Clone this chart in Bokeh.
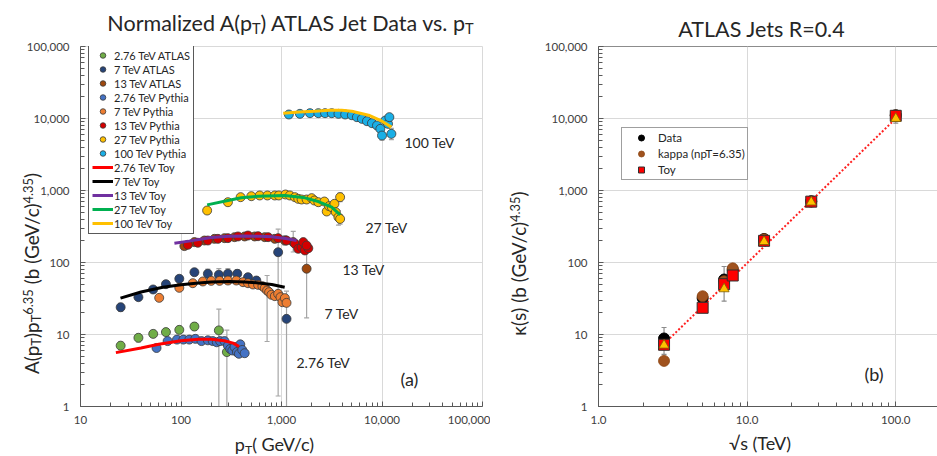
from bokeh.plotting import figure
from bokeh.models import (ColumnDataSource, Label, Whisker, TeeHead, NumeralTickFormatter,
                          FixedTicker, Range1d, GridBox, Div)
from bokeh.embed import file_html
from bokeh.resources import INLINE

FONT = "Lato"
TXT = "#262626"
TICK = "#404040"
W, H = 937, 456

# ---------------- Left panel data: (pT [GeV/c], A(pT) pT^6.35) ----------------
pt_276_atlas = [25.1, 37.7, 52.9, 70.8, 96.2, 136, 238, 286]
y_276_atlas = [7.0, 9.0, 10.2, 10.8, 11.6, 12.9, 11.4, 5.7]
lo_276_atlas = [6.1, 7.9, 9.1, 9.7, 10.4, 11.4, 1.0, 1.0]
hi_276_atlas = [7.9, 10.1, 11.4, 12.1, 13.0, 14.6, 22.5, 11.5]

pt_7_atlas = [25.1, 37.7, 52.8, 70.8, 96.2, 136, 185, 238, 293, 363, 464, 562, 926, 1122]
y_7_atlas = [23.9, 33, 42.2, 50, 59.4, 73.3, 69.7, 67.6, 69.7, 69.7, 62.5, 56.2, 139, 16.5]
lo_7_atlas = [21, 30, 38.5, 45.5, 54, 66, 61, 60, 61, 61, 56, 50, 1.4, 1.0]
hi_7_atlas = [27, 36, 46, 55, 65, 81, 81, 82, 82, 80, 70, 63, 290, 40]

pt_13_atlas = [108, 136, 171, 215, 271, 341, 430, 541, 681, 857, 1080, 1308, 1778]
y_13_atlas = [169, 192, 202, 213, 218, 225, 230, 230, 225, 213, 202, 192, 82]
lo_13_atlas = [160, 183, 193, 204, 209, 216, 221, 220, 214, 200, 175, 140, 17]
hi_13_atlas = [178, 201, 211, 222, 227, 234, 239, 240, 236, 226, 235, 270, 140]

pt_276_pyth = [57.1, 73.6, 91.2, 105.5, 121, 139, 160, 185, 207, 227, 245, 271, 293, 309,
               324, 341, 360, 377, 389, 407, 430]
y_276_pyth = [6.5, 8.1, 8.5, 8.5, 8.5, 8.7, 8.1, 8.3, 8.1, 7.8, 8.1, 8.1, 7.0, 6.3,
              6.0, 6.7, 5.7, 5.4, 7.3, 6.1, 5.5]

pt_7_pyth = [60.7, 96.2, 131, 165, 200, 242, 293, 355, 414, 464, 521, 585, 646, 681, 719,
             753, 794, 858, 926, 977, 1023, 1080, 1122]
y_7_pyth = [32.3, 44.5, 51.6, 54.5, 55.6, 55.6, 56.2, 56.2, 53.3, 51.6, 49.5, 48.9, 46.9,
            44.0, 40.8, 38.7, 35.6, 34.1, 36.7, 33.0, 28.1, 32.0, 27.5]
lo_7_pyth = [32.3, 44.5, 51.6, 54.5, 55.6, 55.6, 56.2, 56.2, 53.3, 51.6, 49.5, 48.9, 46.9,
             44.0, 8.0, 38.7, 35.6, 34.1, 36.7, 33.0, 28.1, 32.0, 27.5]
hi_7_pyth = [32.3, 44.5, 51.6, 54.5, 55.6, 55.6, 56.2, 56.2, 53.3, 51.6, 49.5, 48.9, 46.9,
             44.0, 66.0, 38.7, 35.6, 34.1, 36.7, 33.0, 28.1, 32.0, 27.5]

pt_13_pyth = [117, 147, 185, 233, 293, 369, 464, 585, 736, 927, 1122, 1359, 1468, 1585,
              1648, 1711, 1849, 1778]
y_13_pyth = [176, 188, 202, 213, 218, 230, 237, 232, 225, 218, 202, 182, 155, 163,
             192, 147, 158, 172]

pt_27_pyth = [182, 293, 392, 501, 607, 724, 858, 940, 1096, 1211, 1359, 1468, 1585, 1778,
              1995, 2122, 2326, 2671, 2818, 2973, 3162, 3363, 3467, 3687, 3831, 3831]
y_27_pyth = [527, 688, 808, 834, 853, 853, 853, 853, 880, 853, 808, 766, 750, 750,
             783, 726, 688, 703, 511, 606, 587, 653, 500, 426, 808, 403]
lo_27_pyth = [527, 688, 808, 834, 853, 853, 853, 853, 880, 853, 808, 766, 750, 750,
              783, 726, 688, 703, 511, 606, 587, 653, 500, 330, 700, 340]
hi_27_pyth = [527, 688, 808, 834, 853, 853, 853, 853, 880, 853, 808, 766, 750, 750,
              783, 726, 688, 703, 511, 606, 587, 653, 500, 520, 930, 403]

pt_100_pyth = [1184, 1525, 1920, 2326, 2712, 3162, 3687, 4300, 5012, 5623, 6310, 7079,
               7943, 8913, 9623, 10000, 10800, 11480, 11840, 12400]
y_100_pyth = [11370, 11610, 11860, 11860, 11860, 11860, 11610, 11370, 11110, 10440, 9890,
              9180, 8610, 8000, 7180, 5800, 9380, 8430, 10440, 6120]
lo_100_pyth = [11370, 11610, 11860, 11860, 11860, 11860, 11610, 11370, 11110, 10440, 9890,
               9180, 8610, 8000, 7180, 5000, 9380, 8430, 10440, 5100]
hi_100_pyth = [11370, 11610, 11860, 11860, 11860, 11860, 11610, 11370, 11110, 10440, 9890,
               9180, 8610, 8000, 7180, 6700, 9380, 8430, 10440, 7300]

# Toy model curves
toy_276_pt = [22.5, 40, 60, 100, 150, 200, 270, 330, 378]
toy_276_y = [5.6, 6.5, 7.3, 8.2, 8.6, 8.6, 8.2, 7.6, 6.8]
toy_7_pt = [25, 40, 66, 100, 141, 200, 304, 430, 562, 800, 1076]
toy_7_y = [32, 39, 45.4, 49, 51.6, 53.5, 54.4, 53.8, 52.3, 49.5, 45.4]
toy_13_pt = [86, 120, 200, 300, 430, 600, 794, 1100, 1413]
toy_13_y = [185, 198, 222, 232, 233, 232, 228, 216, 202]
toy_27_pt = [182, 293, 398, 585, 1080, 1711, 2326, 3162, 3831]
toy_27_y = [632, 726, 791, 834, 853, 791, 703, 587, 459]
toy_100_pt = [1040, 1500, 2150, 3000, 3980, 5000, 7360, 10000, 12400]
toy_100_y = [11860, 12300, 12650, 13000, 13000, 12600, 11110, 9180, 7590]

# ---------------- Right panel data ----------------
sqrt_s = [2.76, 5.02, 7, 8, 13, 27, 100]
kappa_data = [8.8, 32, 58, 80, 212, 710, 11100]
kappa_data_lo = [5.3, 29, 29, 74, 185, 600, 8600]
kappa_data_hi = [12.5, 36, 88, 87, 235, 790, 12500]
kappa_fit = [4.3, 34, 55, 83, 210, 700, 11000]
kappa_toy = [7.2, 23.5, 50, 66, 200, 700, 10900]
tri_s = [2.76, 7, 13, 27, 100]
tri_k = [7.1, 43, 195, 690, 10000]
trend_s = [2.76, 100]
trend_k = [7.4, 10000]

series = [
    ("2.76 TeV ATLAS", pt_276_atlas, y_276_atlas, lo_276_atlas, hi_276_atlas, "#70AD47"),
    ("7 TeV ATLAS", pt_7_atlas, y_7_atlas, lo_7_atlas, hi_7_atlas, "#264478"),
    ("13 TeV ATLAS", pt_13_atlas, y_13_atlas, lo_13_atlas, hi_13_atlas, "#9E480E"),
    ("2.76 TeV Pythia", pt_276_pyth, y_276_pyth, None, None, "#4472C4"),
    ("7 TeV Pythia", pt_7_pyth, y_7_pyth, lo_7_pyth, hi_7_pyth, "#ED7D31"),
    ("13 TeV Pythia", pt_13_pyth, y_13_pyth, None, None, "#D40000"),
    ("27 TeV Pythia", pt_27_pyth, y_27_pyth, lo_27_pyth, hi_27_pyth, "#FFC000"),
    ("100 TeV Pythia", pt_100_pyth, y_100_pyth, lo_100_pyth, hi_100_pyth, "#1AAFE6"),
]
toys = [
    ("2.76 TeV Toy", toy_276_pt, toy_276_y, "#FF0000"),
    ("7 TeV Toy", toy_7_pt, toy_7_y, "#000000"),
    ("13 TeV Toy", toy_13_pt, toy_13_y, "#7030A0"),
    ("27 TeV Toy", toy_27_pt, toy_27_y, "#00B050"),
    ("100 TeV Toy", toy_100_pt, toy_100_y, "#FFC000"),
]


def style_axes(p):
    for ax in (p.xaxis[0], p.yaxis[0]):
        ax.axis_line_color = "#595959"
        ax.major_tick_line_color = "#595959"
        ax.minor_tick_line_color = "#595959"
        ax.major_tick_in = 5
        ax.major_tick_out = 0
        ax.minor_tick_in = 4
        ax.minor_tick_out = 0
        ax.major_label_text_font = FONT
        ax.major_label_text_font_size = "11.5px"
        ax.major_label_text_color = TICK
    p.xaxis.major_label_standoff = 9
    p.yaxis.major_label_standoff = 11
    p.xgrid.grid_line_color = "#d9d9d9"
    p.ygrid.grid_line_color = "#d9d9d9"
    p.background_fill_color = "white"
    p.border_fill_color = "white"


def log_minor(k0, k1):
    return [m * 10.0 ** k for k in range(k0, k1) for m in range(2, 10)]


# ---------------- Left figure ----------------
p1 = figure(width=490, height=456, x_axis_type="log", y_axis_type="log",
            x_range=Range1d(10, 100000), y_range=Range1d(1, 100000),
            output_backend="svg", toolbar_location=None,
            min_border_left=80, min_border_right=8, min_border_top=46, min_border_bottom=50)
p1.outline_line_color = "#d9d9d9"
style_axes(p1)
p1.xaxis.ticker = FixedTicker(ticks=[10, 100, 1000, 10000, 100000], minor_ticks=log_minor(1, 5))
p1.yaxis.ticker = FixedTicker(ticks=[1, 10, 100, 1000, 10000, 100000], minor_ticks=log_minor(0, 5))
p1.xaxis.formatter = NumeralTickFormatter(format="0,0")
p1.yaxis.formatter = NumeralTickFormatter(format="0,0")

for name, xs, ys, lo, hi, col in series:
    if lo is not None:
        src = ColumnDataSource(dict(x=xs, lo=lo, hi=hi))
        p1.add_layout(Whisker(source=src, base="x", lower="lo", upper="hi", dimension="height",
                              line_color="#a6a6a6", line_width=1.2,
                              upper_head=TeeHead(size=5, line_color="#a6a6a6", line_width=1.2),
                              lower_head=TeeHead(size=5, line_color="#a6a6a6", line_width=1.2)))
for name, xs, ys, lo, hi, col in series:
    p1.scatter(xs, ys, marker="circle", size=9, fill_color=col, line_color="#3a3a3a",
               line_width=0.8, legend_label=name)
for name, xs, ys, col in toys:
    p1.line(xs, ys, line_width=3, line_color=col, legend_label=name)

lg = p1.legend[0]
lg.location = (8, 172)
lg.label_text_font = FONT
lg.label_text_font_size = "11px"
lg.label_text_color = TXT
lg.label_height = 14
lg.glyph_height = 14
lg.glyph_width = 21
lg.spacing = 0
lg.padding = 3
lg.margin = 0
lg.label_standoff = 1
lg.border_line_color = "#595959"
lg.border_line_width = 1.5
lg.border_line_alpha = 1.0
lg.background_fill_color = "white"
lg.background_fill_alpha = 1.0

for txt, lx, ly in [("100 TeV", 324, 264), ("27 TeV", 285, 179), ("13 TeV", 262, 137),
                    ("7 TeV", 244, 93), ("2.76 TeV", 216, 44)]:
    p1.add_layout(Label(x=lx, y=ly, x_units="screen", y_units="screen", text=txt,
                        text_font=FONT, text_font_size="14px", text_color=TXT,
                        text_baseline="alphabetic"))
p1.add_layout(Label(x=320, y=28, x_units="screen", y_units="screen", text="(a)",
                    text_font=FONT, text_font_size="18px", text_color=TXT,
                    text_baseline="middle"))

# ---------------- Right figure ----------------
p2 = figure(width=447, height=456, x_axis_type="log", y_axis_type="log",
            x_range=Range1d(1, 200), y_range=Range1d(1, 100000),
            output_backend="svg", toolbar_location=None,
            min_border_left=103, min_border_right=2, min_border_top=46, min_border_bottom=50)
p2.outline_line_color = "#8c8c8c"
style_axes(p2)
p2.xaxis.ticker = FixedTicker(ticks=[1, 10, 100], minor_ticks=log_minor(0, 2))
p2.yaxis.ticker = FixedTicker(ticks=[1, 10, 100, 1000, 10000, 100000], minor_ticks=log_minor(0, 5))
p2.xaxis.formatter = NumeralTickFormatter(format="0.0")
p2.yaxis.formatter = NumeralTickFormatter(format="0,0")

p2.line(trend_s, trend_k, line_color="#FF2020", line_width=2, line_dash="2 2")
src_r = ColumnDataSource(dict(x=sqrt_s, lo=kappa_data_lo, hi=kappa_data_hi))
p2.add_layout(Whisker(source=src_r, base="x", lower="lo", upper="hi", dimension="height",
                      line_color="#8c8c8c", line_width=1.2,
                      upper_head=TeeHead(size=5, line_color="#8c8c8c", line_width=1.2),
                      lower_head=TeeHead(size=5, line_color="#8c8c8c", line_width=1.2)))
p2.scatter(sqrt_s, kappa_data, marker="circle", size=11, fill_color="#000000",
           line_color="#000000", legend_label="Data")
p2.scatter(sqrt_s, kappa_fit, marker="circle", size=11, fill_color="#A0521E",
           line_color="#8B4513", line_width=0.8, legend_label="kappa (npT=6.35)")
p2.scatter(sqrt_s, kappa_toy, marker="square", size=11, fill_color="#FF0000",
           line_color="#303030", line_width=1, legend_label="Toy")
p2.scatter(tri_s, tri_k, marker="triangle", size=10, fill_color="#FFC000",
           line_color="#7f6000", line_width=0.8)

lg2 = p2.legend[0]
lg2.location = (23, 226)
lg2.label_text_font = FONT
lg2.label_text_font_size = "11.5px"
lg2.label_text_color = TXT
lg2.label_height = 15
lg2.glyph_height = 15
lg2.glyph_width = 34
lg2.spacing = 1
lg2.padding = 2
lg2.margin = 0
lg2.label_standoff = 0
lg2.border_line_color = "#404040"
lg2.border_line_width = 1.2

p2.add_layout(Label(x=266, y=33, x_units="screen", y_units="screen", text="(b)",
                    text_font=FONT, text_font_size="18px", text_color=TXT,
                    text_baseline="middle"))

# ---------------- Titles and axis titles (HTML text overlay) ----------------
SUB = '<span style="font-size:0.68em;vertical-align:-0.22em">%s</span>'
SUP = '<span style="font-size:0.68em;vertical-align:0.42em">%s</span>'


def hbox(html, cx, top, size, width=600):
    return ('<div style="position:absolute;left:%.1fpx;top:%.1fpx;width:%dpx;'
            'text-align:center;white-space:nowrap;line-height:1;font-size:%.1fpx">%s</div>'
            % (cx - width / 2, top, width, size, html))


def vbox(html, cx, cy, size, width=400):
    return ('<div style="position:absolute;left:%.1fpx;top:%.1fpx;width:%dpx;height:%.1fpx;'
            'text-align:center;white-space:nowrap;line-height:1;font-size:%.1fpx;'
            'transform:rotate(-90deg);transform-origin:50%% 50%%">%s</div>'
            % (cx - width / 2, cy - size / 2, width, size, size, html))


title_left = "Normalized A(p" + SUB % "T" + ") ATLAS Jet Data vs. p" + SUB % "T"
title_right = "ATLAS Jets R=0.4"
xlab_left = "p" + SUB % "T" + "( GeV/c)"
xlab_right = "&radic;s (TeV)"
ylab_left = "A(p" + SUB % "T" + ")p" + SUB % "T" + SUP % "6.35" + " (b (GeV/c)" + SUP % "4.35" + ")"
ylab_right = "&kappa;(s) (b (GeV/c)" + SUP % "4.35" + ")"

overlay_html = (
    '<div style="position:relative;width:%dpx;height:%dpx;font-family:Lato,sans-serif;'
    'color:%s;pointer-events:none">' % (W, H, TXT)
    + hbox(title_left, 285.5, 7.5, 21.5)
    + hbox(title_right, 756.5, 14.0, 21.5)
    + hbox(xlab_left, 269.5, 430.0, 18.0)
    + hbox(xlab_right, 755.0, 429.0, 18.0)
    + vbox(ylab_left, 26.0, 268.0, 19.0)
    + vbox(ylab_right, 513.0, 258.0, 19.0)
    + '</div>'
)
overlay = Div(text=overlay_html, width=W, height=H)

layout = GridBox(children=[(p1, 0, 0), (p2, 0, 1), (overlay, 0, 0, 1, 2)], spacing=0)
open("out.html", "w").write(file_html(layout, INLINE))
